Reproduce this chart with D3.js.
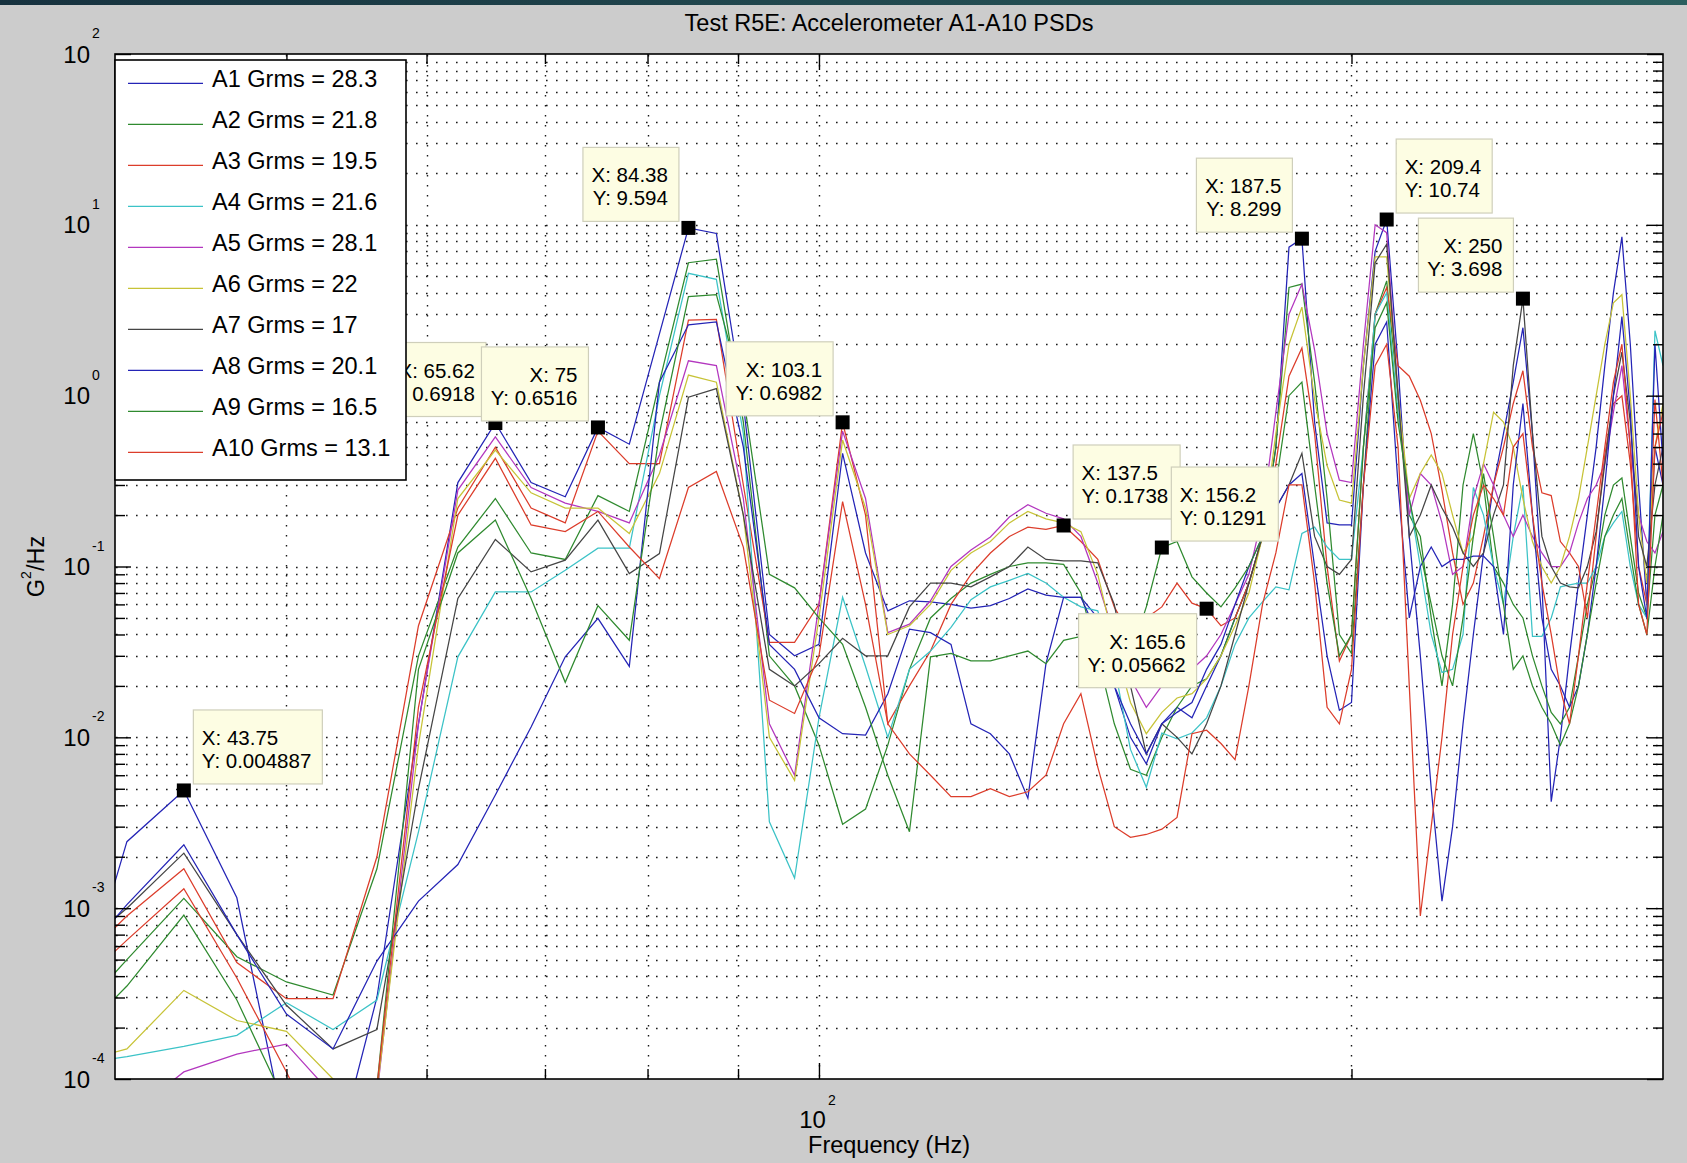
<!DOCTYPE html>
<html>
<head>
<meta charset="utf-8">
<title>Test R5E: Accelerometer A1-A10 PSDs</title>
<script src="https://cdn.jsdelivr.net/npm/d3@7"></script>
<style>
  html, body { margin: 0; padding: 0; background: #cccccc; }
  svg { display: block; }
  text { font-family: "Liberation Sans", Arial, Helvetica, sans-serif; fill: #000; }
</style>
</head>
<body>
<svg id="chart" width="1687" height="1163"></svg>
<script>
// ---- Data: PSD values (G^2/Hz) sampled every 3.125 Hz ----
const freqHz = [37.5, 40.625, 43.75, 46.875, 50, 53.125, 56.25, 59.375, 62.5, 65.625, 68.75, 71.875, 75, 78.125, 81.25, 84.375, 87.5, 90.625, 93.75, 96.875, 100, 103.125, 106.25, 109.375, 112.5, 115.625, 118.75, 121.875, 125, 128.125, 131.25, 134.375, 137.5, 140.625, 143.75, 146.875, 150, 153.125, 156.25, 159.375, 162.5, 165.625, 168.75, 171.875, 175, 178.125, 181.25, 184.375, 187.5, 190.625, 193.75, 196.875, 200, 203.125, 206.25, 209.375, 212.5, 215.625, 218.75, 221.875, 225, 228.125, 231.25, 234.375, 237.5, 240.625, 243.75, 246.875, 250, 253.125, 256.25, 259.375, 262.5, 265.625, 268.75, 271.875, 275, 278.125, 281.25, 284.375, 287.5, 290.625, 293.75, 296.875, 300];

const psdA1 = [1.5e-4, 2.45e-3, 0.004887, 1.15e-3, 4.5e-5, 3e-5, 3e-4, 0.012, 0.31, 0.6918, 0.31, 0.256, 0.6516, 0.52, 2.3, 9.594, 8.9, 0.9, 0.04, 0.03, 0.035, 0.46, 0.12, 0.055, 0.063, 0.062, 0.06, 0.057, 0.059, 0.065, 0.074, 0.068, 0.066, 0.066, 0.05, 0.02, 0.01, 7e-3, 0.012, 0.015, 0.013, 0.02, 0.03, 0.05, 0.08, 0.15, 0.5, 7.4, 8.299, 0.7, 0.18, 0.175, 0.175, 1.5, 7.0, 10.74, 1.5, 0.15, 0.03, 5e-3, 1.1e-3, 3e-3, 0.012, 0.04, 0.12, 0.3, 0.6, 1.2, 2.5, 0.6, 0.08, 4.2e-3, 0.01, 0.03, 0.08, 0.2, 0.5, 1.5, 4.0, 8.5, 2.0, 0.3, 0.06, 0.5, 0.3];
const psdA2 = [2e-4, 5e-4, 1.14e-3, 5.2e-4, 3.7e-4, 3.1e-4, 1.7e-3, 0.03, 0.13, 0.25, 0.12, 0.11, 0.26, 0.21, 1.2, 6.0, 6.3, 0.7, 0.03, 0.02, 0.009, 3.1e-3, 3.8e-3, 9e-3, 0.025, 0.05, 0.065, 0.08, 0.09, 0.1, 0.105, 0.105, 0.103, 0.07, 0.03, 0.012, 6.5e-3, 6e-3, 0.01, 0.015, 0.02, 0.022, 0.03, 0.05, 0.08, 0.15, 0.5, 4.3, 4.5, 1.2, 0.25, 0.04, 0.031, 0.3, 3.0, 4.7, 1.0, 0.2, 0.15, 0.05, 0.02, 0.06, 0.3, 0.6, 0.3, 0.1, 0.08, 0.06, 0.05, 0.03, 0.02, 0.014, 0.012, 0.015, 0.03, 0.06, 0.1, 0.2, 0.3, 0.33, 0.15, 0.07, 0.05, 0.2, 0.3];
const psdA3 = [4e-4, 9e-4, 1.7e-3, 4.8e-4, 2.95e-4, 2.95e-4, 2.0e-3, 0.045, 0.22, 0.5, 0.22, 0.18, 0.62, 0.4, 0.4, 2.77, 2.8, 0.3, 0.036, 0.036, 0.06, 0.6982, 0.2, 0.012, 0.02, 0.032, 0.06, 0.09, 0.12, 0.15, 0.17, 0.165, 0.1738, 0.14, 0.11, 0.058, 0.039, 0.05, 0.058, 0.08, 0.061, 0.05662, 0.045, 0.05, 0.08, 0.15, 0.4, 1.3, 1.9, 0.6, 0.1, 0.028, 0.04, 0.5, 3.0, 4.3, 1.5, 1.3, 0.94, 0.6, 0.28, 0.12, 0.06, 0.08, 0.15, 0.3, 0.5, 0.9, 1.4, 0.5, 0.27, 0.26, 0.14, 0.12, 0.1, 0.05, 0.15, 0.45, 0.9, 1.0, 0.4, 0.1, 0.06, 0.95, 0.3];
const psdA4 = [1.2e-4, 1.35e-4, 1.55e-4, 1.8e-4, 2.8e-4, 1.95e-4, 2.9e-4, 2.8e-3, 0.0296, 0.071, 0.071, 0.095, 0.128, 0.128, 1.0, 5.2, 4.8, 0.6, 3.2e-3, 1.5e-3, 0.013, 0.066, 0.026, 0.01, 0.025, 0.032, 0.044, 0.064, 0.076, 0.083, 0.091, 0.08, 0.066, 0.058, 0.055, 0.026, 8.5e-3, 5.1e-3, 0.0106, 9.8e-3, 0.0106, 0.013, 0.02, 0.035, 0.05, 0.062, 0.076, 0.073, 0.156, 0.17, 0.13, 0.11, 0.11, 0.5, 3.0, 4.0, 0.8, 0.25, 0.1, 0.04, 0.024, 0.025, 0.04, 0.29, 0.2, 0.1, 0.06, 0.15, 0.3, 0.039, 0.039, 0.05, 0.076, 0.078, 0.08, 0.08, 0.1, 0.15, 0.18, 0.21, 0.1, 0.06, 0.05, 2.4, 1.5];
const psdA5 = [4e-5, 6e-5, 1.1e-4, 1.4e-4, 1.6e-4, 8e-5, 8e-5, 0.012, 0.28, 0.574, 0.29, 0.235, 0.21, 0.18, 0.45, 1.6, 1.5, 0.25, 0.012, 6e-3, 0.06, 0.62, 0.25, 0.041, 0.046, 0.063, 0.1, 0.125, 0.149, 0.195, 0.23, 0.205, 0.19, 0.15, 0.08, 0.04, 0.022, 0.015, 0.02, 0.025, 0.025, 0.03, 0.04, 0.06, 0.09, 0.2, 0.8, 3.0, 4.5, 1.85, 0.6, 0.32, 0.31, 2.0, 10.0, 9.0, 1.0, 0.2, 0.35, 0.3, 0.18, 0.09, 0.1, 0.25, 0.4, 0.3, 0.2, 0.15, 0.2, 0.15, 0.12, 0.1, 0.1, 0.12, 0.18, 0.25, 0.3, 0.4, 0.8, 1.5, 0.5, 0.2, 0.14, 0.12, 0.16];
const psdA6 = [1.2e-4, 1.5e-4, 3.3e-4, 2.2e-4, 1.9e-4, 1e-4, 8.5e-5, 9e-3, 0.25, 0.48, 0.27, 0.22, 0.22, 0.156, 0.35, 1.32, 1.2, 0.2, 0.01, 5.6e-3, 0.05, 0.55, 0.22, 0.04, 0.045, 0.06, 0.095, 0.12, 0.14, 0.18, 0.21, 0.19, 0.18, 0.16, 0.09, 0.035, 0.016, 0.0105, 0.014, 0.017, 0.018, 0.022, 0.03, 0.045, 0.07, 0.15, 0.6, 2.0, 3.3, 0.95, 0.39, 0.245, 0.235, 1.5, 6.5, 6.5, 1.0, 0.25, 0.35, 0.45, 0.35, 0.2, 0.12, 0.15, 0.4, 0.8, 0.7, 0.5, 0.25, 0.14, 0.1, 0.08, 0.1, 0.15, 0.25, 0.5, 1.0, 2.0, 3.5, 3.9, 1.0, 0.2, 0.08, 0.5, 0.9];
const psdA7 = [5e-4, 1.0e-3, 2.1e-3, 7e-4, 2.7e-4, 1.5e-4, 1.95e-4, 5e-3, 0.065, 0.144, 0.093, 0.109, 0.187, 0.091, 0.119, 0.98, 1.1, 0.2, 0.025, 0.02, 0.027, 0.038, 0.03, 0.03, 0.058, 0.08, 0.08, 0.076, 0.087, 0.1, 0.13, 0.11, 0.108, 0.108, 0.105, 0.06, 0.02, 8e-3, 0.012, 0.01, 8e-3, 0.012, 0.02, 0.04, 0.08, 0.15, 0.22, 0.3, 0.46, 0.15, 0.1, 0.09, 0.11, 1.0, 6.0, 7.7, 1.0, 0.15, 0.2, 0.3, 0.22, 0.17, 0.12, 0.1, 0.12, 0.2, 0.3, 1.5, 3.698, 0.6, 0.15, 0.1, 0.08, 0.076, 0.075, 0.1, 0.16, 0.4, 1.0, 1.8, 0.7, 0.15, 0.1, 0.3, 0.5];
const psdA8 = [4e-4, 1.05e-3, 2.35e-3, 7e-4, 2.4e-4, 1.5e-4, 4.9e-4, 1.1e-3, 1.8e-3, 4.6e-3, 0.0115, 0.0296, 0.0497, 0.026, 1.2, 2.6, 2.7, 0.5, 0.035, 0.025, 0.013, 0.0105, 0.0103, 0.018, 0.043, 0.041, 0.035, 0.012, 0.0105, 0.008, 4.4e-3, 0.027, 0.066, 0.066, 0.04, 0.02, 0.012, 8e-3, 0.012, 0.014, 0.016, 0.025, 0.035, 0.06, 0.1, 0.15, 0.22, 0.3, 0.35, 0.1, 0.03, 0.0144, 0.016, 0.3, 2.0, 2.7, 0.3, 0.05, 0.1, 0.13, 0.1, 0.11, 0.11, 0.115, 0.115, 0.1, 0.04, 0.3, 0.9, 0.2, 0.05, 0.025, 0.02, 0.015, 0.02, 0.04, 0.1, 0.3, 1.0, 2.9, 0.8, 0.1, 0.05, 2.0, 0.4];
const psdA9 = [1.5e-4, 3.5e-4, 9.1e-4, 2.9e-4, 7e-5, 2e-5, 9e-5, 0.025, 0.12, 0.187, 0.065, 0.021, 0.059, 0.037, 0.6, 3.8, 3.9, 1.0, 0.09, 0.075, 0.05, 0.035, 0.015, 6e-3, 2.8e-3, 0.0296, 0.031, 0.028, 0.028, 0.03, 0.032, 0.027, 0.037, 0.039, 0.03, 0.028, 0.03, 0.058, 0.1291, 0.14, 0.087, 0.07, 0.058, 0.075, 0.1, 0.15, 0.3, 1.0, 1.2, 0.3, 0.08, 0.03, 0.04, 0.5, 2.5, 3.5, 0.7, 0.25, 0.12, 0.06, 0.03, 0.02, 0.05, 0.15, 0.35, 0.15, 0.06, 0.025, 0.03, 0.02, 0.015, 0.012, 0.009, 0.012, 0.02, 0.04, 0.08, 0.15, 0.2, 0.25, 0.12, 0.06, 0.04, 0.1, 0.2];
const psdA10 = [3e-4, 6.5e-4, 1.3e-3, 3.9e-4, 1.1e-4, 3e-5, 9e-5, 0.015, 0.2, 0.43, 0.175, 0.16, 0.21, 0.13, 0.085, 0.29, 0.36, 0.13, 0.0165, 0.0138, 0.03, 0.24, 0.06, 0.012, 8e-3, 6e-3, 4.5e-3, 4.5e-3, 5e-3, 4.5e-3, 4.8e-3, 6e-3, 0.012, 0.018, 6.7e-3, 3e-3, 2.6e-3, 2.7e-3, 2.9e-3, 3.4e-3, 0.0105, 0.011, 9.2e-3, 7.4e-3, 0.02, 0.06, 0.12, 0.3, 0.3, 0.08, 0.015, 0.012, 0.025, 0.3, 1.5, 2.0, 0.5, 0.02, 9e-4, 3e-3, 0.01, 0.04, 0.1, 0.2, 0.3, 0.25, 0.2, 0.5, 0.6, 0.2, 0.08, 0.04, 0.019, 0.012, 0.03, 0.08, 0.2, 0.5, 1.2, 2.0, 0.5, 0.06, 0.04, 0.5, 0.8];

const channelNames = ["A1", "A2", "A3", "A4", "A5", "A6", "A7", "A8", "A9", "A10"];
const grmsValues = [28.3, 21.8, 19.5, 21.6, 28.1, 22, 17, 20.1, 16.5, 13.1];
const psdTable = [psdA1, psdA2, psdA3, psdA4, psdA5, psdA6, psdA7, psdA8, psdA9, psdA10];

// Axis tick values
const xMinorTicks = [50, 60, 70, 80, 90, 200];
const xMajorTicks = [100];
const yDecades = [1e-4, 1e-3, 1e-2, 1e-1, 1, 10, 100];
const yExponents = [-4, -3, -2, -1, 0, 1, 2];
const yMantissas = [2, 3, 4, 5, 6, 7, 8, 9];

// Data cursors: channel, frequency
const cursorChannels = ["A1", "A1", "A1", "A1", "A3", "A3", "A9", "A3", "A1", "A1", "A7"];
const cursorFreqs = [43.75, 65.625, 75, 84.375, 103.125, 137.5, 156.25, 165.625, 187.5, 209.375, 250];

// ---- Styling ----
const lineColors = ["#2424b6", "#2f8a2f", "#dc3d2b", "#3cc3c7", "#b337bf", "#c7c337", "#454545", "#2424b6", "#2f8a2f", "#dc3d2b"];
const cursorSide = ["ur", "ul", "ul", "ul", "ul", "ur", "ur", "ll", "ul", "ur", "ul"];

const W = 1687, H = 1163;
const P = { left: 115, right: 1663, top: 54, bottom: 1079 };

const x = d3.scaleLog().domain([40, 300]).range([P.left, P.right]);
const y = d3.scaleLog().domain([1e-4, 1e2]).range([P.bottom, P.top]);

const svg = d3.select("#chart");

// window strip along the top edge
const defs = svg.append("defs");
const grad = defs.append("linearGradient").attr("id", "strip").attr("x1", 0).attr("x2", 1).attr("y1", 0).attr("y2", 0);
grad.append("stop").attr("offset", "0%").attr("stop-color", "#17323f");
grad.append("stop").attr("offset", "100%").attr("stop-color", "#2b5e5e");
svg.append("rect").attr("x", 0).attr("y", 0).attr("width", W).attr("height", 5).attr("fill", "url(#strip)");

defs.append("clipPath").attr("id", "plotclip")
  .append("rect").attr("x", P.left).attr("y", P.top)
  .attr("width", P.right - P.left).attr("height", P.bottom - P.top);

// plot background
svg.append("rect").attr("x", P.left).attr("y", P.top)
  .attr("width", P.right - P.left).attr("height", P.bottom - P.top).attr("fill", "#ffffff");

// ---- Grid (dotted) ----
const yGridVals = [];
yExponents.forEach(e => {
  if (e < 2) yMantissas.forEach(m => yGridVals.push(m * Math.pow(10, e)));
  if (e > -4 && e < 2) yGridVals.push(Math.pow(10, e));
});
const xGridVals = xMinorTicks.concat(xMajorTicks);

const grid = svg.append("g").attr("stroke", "#1a1a1a").attr("stroke-width", 1.4)
  .attr("stroke-dasharray", "1.6,8.4").attr("fill", "none");
grid.selectAll("line.gy").data(yGridVals).join("line").attr("class", "gy")
  .attr("x1", P.left + 1).attr("x2", P.right)
  .attr("y1", d => Math.round(y(d)) + 0.5).attr("y2", d => Math.round(y(d)) + 0.5);
grid.selectAll("line.gx").data(xGridVals).join("line").attr("class", "gx")
  .attr("y1", P.top + 1).attr("y2", P.bottom)
  .attr("x1", d => Math.round(x(d)) + 0.5).attr("x2", d => Math.round(x(d)) + 0.5);

// ---- Series ----
const lineGen = d3.line().x(d => x(d[0])).y(d => y(d[1]));
const seriesLayer = svg.append("g").attr("clip-path", "url(#plotclip)");
psdTable.forEach((vals, i) => {
  const pts = freqHz.map((f, k) => [f, vals[k]]);
  seriesLayer.append("path").datum(pts)
    .attr("d", lineGen)
    .attr("fill", "none")
    .attr("stroke", lineColors[i])
    .attr("stroke-width", 1.25)
    .attr("stroke-linejoin", "miter");
});

// ---- Axes: ticks drawn inward on all four sides ----
function styleAxis(g) {
  g.select(".domain").remove();
  g.selectAll(".tick line").attr("stroke", "#000").attr("stroke-width", 1.4);
  g.selectAll(".tick text").remove();
}
const yMinorVals = [];
yExponents.forEach(e => { if (e < 2) yMantissas.forEach(m => yMinorVals.push(m * Math.pow(10, e))); });

svg.append("g").attr("transform", `translate(${P.left},0)`)
  .call(d3.axisLeft(y).tickValues(yDecades).tickSizeInner(-16).tickSizeOuter(0).tickFormat("")).call(styleAxis);
svg.append("g").attr("transform", `translate(${P.left},0)`)
  .call(d3.axisLeft(y).tickValues(yMinorVals).tickSizeInner(-10).tickSizeOuter(0).tickFormat("")).call(styleAxis);
svg.append("g").attr("transform", `translate(${P.right},0)`)
  .call(d3.axisRight(y).tickValues(yDecades).tickSizeInner(-16).tickSizeOuter(0).tickFormat("")).call(styleAxis);
svg.append("g").attr("transform", `translate(${P.right},0)`)
  .call(d3.axisRight(y).tickValues(yMinorVals).tickSizeInner(-10).tickSizeOuter(0).tickFormat("")).call(styleAxis);
svg.append("g").attr("transform", `translate(0,${P.bottom})`)
  .call(d3.axisBottom(x).tickValues(xMajorTicks).tickSizeInner(-16).tickSizeOuter(0).tickFormat("")).call(styleAxis);
svg.append("g").attr("transform", `translate(0,${P.bottom})`)
  .call(d3.axisBottom(x).tickValues(xMinorTicks).tickSizeInner(-10).tickSizeOuter(0).tickFormat("")).call(styleAxis);
svg.append("g").attr("transform", `translate(0,${P.top})`)
  .call(d3.axisTop(x).tickValues(xMajorTicks).tickSizeInner(-16).tickSizeOuter(0).tickFormat("")).call(styleAxis);
svg.append("g").attr("transform", `translate(0,${P.top})`)
  .call(d3.axisTop(x).tickValues(xMinorTicks).tickSizeInner(-10).tickSizeOuter(0).tickFormat("")).call(styleAxis);

// frame
svg.append("rect").attr("x", P.left).attr("y", P.top)
  .attr("width", P.right - P.left).attr("height", P.bottom - P.top)
  .attr("fill", "none").attr("stroke", "#000").attr("stroke-width", 1.6);

// ---- Tick labels: 10 with superscript exponent ----
const yLab = svg.append("g");
yDecades.forEach((v, i) => {
  const ty = y(v);
  yLab.append("text").attr("x", 90).attr("y", ty + 8.5).attr("text-anchor", "end")
    .attr("font-size", 24).text("10");
  yLab.append("text").attr("x", 92).attr("y", ty - 16).attr("text-anchor", "start")
    .attr("font-size", 14).text(String(yExponents[i]));
});
xMajorTicks.forEach(v => {
  const tx = x(v);
  svg.append("text").attr("x", tx + 7).attr("y", 1128).attr("text-anchor", "end")
    .attr("font-size", 24).text("10");
  svg.append("text").attr("x", tx + 9).attr("y", 1105).attr("text-anchor", "start")
    .attr("font-size", 14).text(String(Math.round(Math.log10(v))));
});

// ---- Title and axis labels ----
const midX = (P.left + P.right) / 2, midY = (P.top + P.bottom) / 2;
svg.append("text").attr("x", midX).attr("y", 31).attr("text-anchor", "middle")
  .attr("font-size", 23.5).text("Test R5E: Accelerometer A1-A10 PSDs");
svg.append("text").attr("x", midX).attr("y", 1153).attr("text-anchor", "middle")
  .attr("font-size", 23.5).text("Frequency (Hz)");
const yl = svg.append("text").attr("transform", `translate(44,${midY}) rotate(-90)`)
  .attr("text-anchor", "middle").attr("font-size", 23.5);
yl.append("tspan").text("G");
yl.append("tspan").attr("font-size", 14).attr("dy", -13).text("2");
yl.append("tspan").attr("dy", 13).text("/Hz");

// ---- Data cursors ----
function fmt4(v) {
  const e = Math.floor(Math.log10(Math.abs(v)));
  const dec = Math.max(0, 3 - e);
  const s = v * Math.pow(10, dec);
  let r = Math.round(s);
  if (Math.abs(Math.abs(s - Math.floor(s)) - 0.5) < 1e-9 && r % 2 !== 0) r -= 1;
  let out = (r / Math.pow(10, dec)).toFixed(dec);
  if (out.indexOf(".") >= 0) out = out.replace(/0+$/, "").replace(/\.$/, "");
  return out;
}
const tipLayer = svg.append("g");
cursorChannels.forEach((name, j) => {
  const si = channelNames.indexOf(name);
  const fi = freqHz.indexOf(cursorFreqs[j]);
  const f = freqHz[fi], v = psdTable[si][fi];
  const mx = x(f), my = y(v);
  const g = tipLayer.append("g");
  const lines = ["X: " + fmt4(f), "Y: " + fmt4(v)];
  const rect = g.append("rect");
  const side = cursorSide[j];
  const texts = lines.map(s => g.append("text").attr("font-size", 20.5).text(s));
  const tw = d3.max(texts, t => t.node().getComputedTextLength());
  const bw = Math.round(tw + 20), bh = 74;
  let bx, by;
  if (side === "ur") { bx = mx + 9.5; by = my - 6.5 - bh; }
  else if (side === "ul") { bx = mx - 9.5 - bw; by = my - 6.5 - bh; }
  else { bx = mx - 10 - bw; by = my + 5; }
  rect.attr("x", bx).attr("y", by).attr("width", bw).attr("height", bh)
    .attr("fill", "#fdfde3").attr("stroke", "#cfcfbb").attr("stroke-width", 1.2);
  texts.forEach((t, k) => {
    const ty = by + 35 + k * 23;
    if (side === "ur") t.attr("x", bx + 8.5).attr("y", ty).attr("text-anchor", "start");
    else t.attr("x", bx + bw - 11).attr("y", ty).attr("text-anchor", "end");
  });
  g.append("rect").attr("x", mx - 7).attr("y", my - 7).attr("width", 14).attr("height", 14)
    .attr("fill", "#000");
});

// ---- Legend ----
const lg = svg.append("g");
lg.append("rect").attr("x", P.left).attr("y", 60).attr("width", 291).attr("height", 420)
  .attr("fill", "#fff").attr("stroke", "#000").attr("stroke-width", 1.6);
channelNames.forEach((name, i) => {
  const ly = 83.3 + i * 41;
  lg.append("line").attr("x1", 128).attr("x2", 203).attr("y1", ly).attr("y2", ly)
    .attr("stroke", lineColors[i]).attr("stroke-width", 1.3);
  lg.append("text").attr("x", 212).attr("y", ly + 3.6).attr("font-size", 23.5)
    .text(name + " Grms = " + grmsValues[i]);
});
</script>
</body>
</html>
